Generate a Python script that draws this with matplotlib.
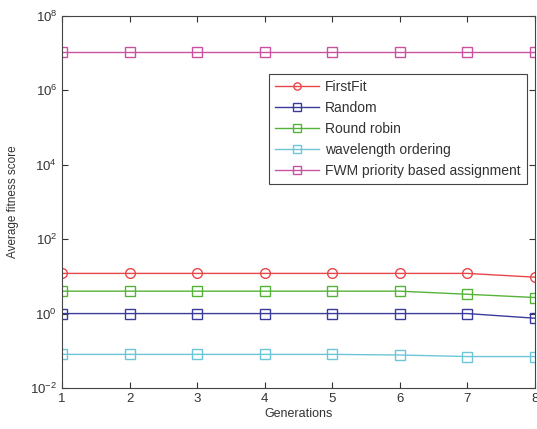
import numpy as np
import matplotlib
matplotlib.use('Agg')
import matplotlib.pyplot as plt
from matplotlib.ticker import LogLocator, NullLocator

plt.rcParams['font.family'] = ['Liberation Sans', 'DejaVu Sans']
plt.rcParams['mathtext.fontset'] = 'custom'
plt.rcParams['mathtext.rm'] = 'Liberation Sans'

generations = [1, 2, 3, 4, 5, 6, 7, 8]

first_fit = [12, 12, 12, 12, 12, 12, 12, 9.5]
random_asg = [1.0, 1.0, 1.0, 1.0, 1.0, 1.0, 1.0, 0.75]
round_robin = [4.0, 4.0, 4.0, 4.0, 4.0, 4.0, 3.3, 2.7]
wavelength_ord = [0.08, 0.08, 0.08, 0.08, 0.08, 0.077, 0.07, 0.07]
fwm_priority = [1.05e7] * 8

labels = ['FirstFit', 'Random', 'Round robin', 'wavelength ordering',
          'FWM priority based assignment']

fig = plt.figure(figsize=(5.37, 4.29), dpi=100)
ax = fig.add_axes([0.1155, 0.0956, 0.8805, 0.8674])

ax.plot(generations, first_fit, '-o', color='#e8474a', mfc='none', ms=7, lw=1, label=labels[0])
ax.plot(generations, random_asg, '-s', color='#3b3b9c', mfc='none', ms=7, lw=1, label=labels[1])
ax.plot(generations, round_robin, '-s', color='#55b33a', mfc='none', ms=7, lw=1, label=labels[2])
ax.plot(generations, wavelength_ord, '-s', color='#6cc6d8', mfc='none', ms=7, lw=1, label=labels[3])
ax.plot(generations, fwm_priority, '-s', color='#c9529f', mfc='none', ms=7, lw=1, label=labels[4])

ax.set_yscale('log')
ax.set_xlim(1, 8)
ax.set_ylim(1e-2, 1e8)
ax.set_xticks(generations)
ax.yaxis.set_major_locator(LogLocator(base=100))
ax.yaxis.set_minor_locator(NullLocator())
ax.tick_params(direction='in', top=True, right=True, labelsize=9.5,
               colors='#333333', length=4)
for s in ax.spines.values():
    s.set_color('#444444')

ax.set_xlabel('Generations', fontsize=9, color='#333333', labelpad=2)
ax.set_ylabel('Average fitness score', fontsize=8.5, color='#333333', labelpad=8)

leg = ax.legend(loc='upper right', bbox_to_anchor=(0.983, 0.844), fontsize=10,
                fancybox=False, edgecolor='#444444', framealpha=1,
                handlelength=3.2, borderpad=0.45, labelspacing=0.5,
                handletextpad=0.4, markerscale=0.75, borderaxespad=0)
leg.get_frame().set_linewidth(0.8)
for t in leg.get_texts():
    t.set_color('#333333')

plt.savefig('out.png', dpi=100)
